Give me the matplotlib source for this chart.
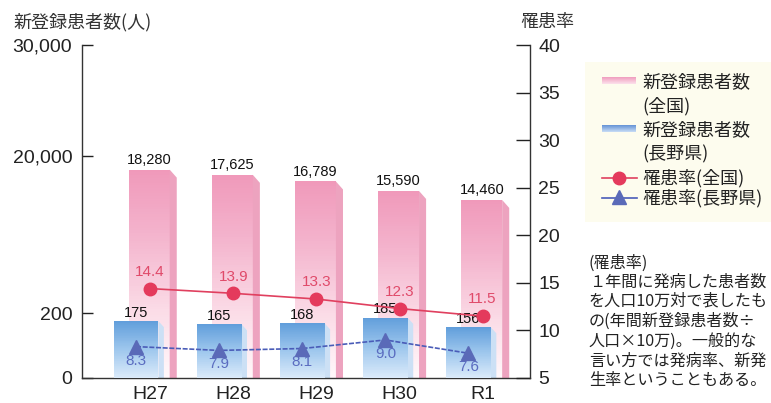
import numpy as np
import matplotlib
matplotlib.use("Agg")
import matplotlib.pyplot as plt
from matplotlib.colors import LinearSegmentedColormap

# ---------------- data ----------------
years = ["H27", "H28", "H29", "H30", "R1"]
national_count = [18280, 17625, 16789, 15590, 14460]
nagano_count = [175, 165, 168, 185, 156]
national_rate = [14.4, 13.9, 13.3, 12.3, 11.5]
nagano_rate = [8.3, 7.9, 8.1, 9.0, 7.6]
left_ticks = [0, 200, 20000, 30000]
left_ticklabels = ["0", "200", "20,000", "30,000"]
right_ticks = [5, 10, 15, 20, 25, 30, 35, 40]

JP = ["Noto Sans CJK JP", "DejaVu Sans"]
NUM = ["Liberation Sans", "DejaVu Sans"]

W, H = 771, 403
fig = plt.figure(figsize=(W / 100, H / 100), dpi=100)
fig.patch.set_facecolor("white")

# broken left scale (piecewise linear)
BRK = np.array([0, 200, 20000, 30000], dtype=float)
POS = np.array([0, 65, 222, 333], dtype=float)


def fwd(v):
    return np.interp(v, BRK, POS)


def inv(p):
    return np.interp(p, POS, BRK)


ax = fig.add_axes([82 / W, 1 - 378 / H, (530 - 82) / W, (378 - 45) / H])
ax.set_yscale("function", functions=(fwd, inv))
ax.set_ylim(0, 30000)
ax.set_xlim(-0.82, 4.57)
ax.set_facecolor("none")

pink_cmap = LinearSegmentedColormap.from_list(
    "pink", [(0.0, (1.0, 0.97, 0.98)), (0.3, (0.985, 0.87, 0.91)),
             (0.7, (0.955, 0.70, 0.80)), (1.0, (0.94, 0.60, 0.73))])
blue_cmap = LinearSegmentedColormap.from_list(
    "blue", [(0.0, (0.86, 0.92, 0.98)), (0.5, (0.62, 0.78, 0.93)),
             (1.0, (0.38, 0.62, 0.86))])

x = np.arange(len(years))


def grad_bar(xc, w, top, cmap, z):
    ptop = fwd(top)
    levels = np.linspace(0, ptop, 80)
    ye = inv(levels)
    xe = np.array([xc - w / 2, xc + w / 2])
    C = ((levels[:-1] + levels[1:]) / 2 / ptop)[:, None]
    ax.pcolormesh(xe, ye, C, cmap=cmap, vmin=0, vmax=1, shading="flat",
                  zorder=z, antialiased=False, edgecolors="none")


def side(x1, d, top, color, z, drop=8):
    ytop = top
    ytop2 = inv(fwd(top) - drop)
    ax.fill([x1, x1 + d, x1 + d, x1], [ytop, ytop2, 0, 0], color=color,
            lw=0, zorder=z)


pw, pd, poff = 0.49, 0.085, -0.01
bw, bd, boff = 0.54, 0.065, -0.17
for i in range(len(years)):
    # national (pink) bar
    grad_bar(x[i] + poff, pw, national_count[i], pink_cmap, 1)
    side(x[i] + poff + pw / 2, pd, national_count[i], (0.93, 0.64, 0.75), 1)
    # nagano (blue) bar
    grad_bar(x[i] + boff, bw, nagano_count[i], blue_cmap, 3)
    side(x[i] + boff + bw / 2, bd, nagano_count[i], (0.80, 0.88, 0.96), 2, drop=6)
    ax.annotate(f"{national_count[i]:,}", (x[i] + poff, national_count[i]),
                xytext=(0, 2), textcoords="offset points", ha="center",
                va="bottom", fontsize=10.5, family=NUM, color="#111111", zorder=5)
    ax.annotate(f"{nagano_count[i]}", (x[i] + boff, nagano_count[i]),
                xytext=(0, 1), textcoords="offset points", ha="center",
                va="bottom", fontsize=10.5, family=NUM, color="#111111", zorder=5)

ax.set_yticks(left_ticks)
ax.set_yticklabels(left_ticklabels, family=NUM, fontsize=14, color="#222222")
ax.yaxis.set_minor_locator(matplotlib.ticker.NullLocator())
ax.tick_params(axis="y", direction="in", length=8, width=1, pad=7, colors="#222222")
ax.set_xticks(x)
ax.set_xticklabels(years, family=NUM, fontsize=14, color="#222222")
ax.tick_params(axis="x", length=0, pad=6)
ax.spines["top"].set_visible(False)
ax.spines["right"].set_visible(False)
for s in ("left", "bottom"):
    ax.spines[s].set_color("#333333")
    ax.spines[s].set_linewidth(1.0)

# right axis: rates
ax2 = ax.twinx()
ax2.set_ylim(5, 40)
ax2.set_xlim(ax.get_xlim())
ax2.plot(x, national_rate, color="#e0405f", lw=1.2, marker="o",
         markersize=9, markerfacecolor="#e43a5c", markeredgecolor="#e43a5c", zorder=4)
ax2.plot(x + boff, nagano_rate, color="#4a5cb8", lw=1.2, ls=(0, (3, 1)),
         marker="^", markersize=10, markerfacecolor="#5a6ab8",
         markeredgecolor="#5a6ab8", zorder=4)
for i in range(len(years)):
    ax2.annotate(f"{national_rate[i]}", (x[i], national_rate[i]), xytext=(0, 7),
                 textcoords="offset points", ha="center", va="bottom",
                 fontsize=11, family=NUM, color="#e04a6a")
    ax2.annotate(f"{nagano_rate[i]}", (x[i] + boff, nagano_rate[i]), xytext=(0, -5),
                 textcoords="offset points", ha="center", va="top",
                 fontsize=11, family=NUM, color="#5a6cc0")
ax2.set_yticks(right_ticks)
ax2.set_yticklabels([str(t) for t in right_ticks], family=NUM, fontsize=14,
                    color="#222222")
ax2.tick_params(axis="y", direction="in", length=10, width=1, pad=6, colors="#222222")
for s in ("top", "left", "bottom"):
    ax2.spines[s].set_visible(False)
ax2.spines["right"].set_color("#333333")
ax2.spines["right"].set_linewidth(1.0)

# ---------------- overlay (titles, legend, note) ----------------
ov = fig.add_axes([0, 0, 1, 1], zorder=-1)
ov.set_xlim(0, W)
ov.set_ylim(H, 0)
ov.axis("off")

ov.text(13, 22, "新登録患者数(人)", family=JP, fontsize=13, va="center", ha="left",
        color="#333333")
ov.text(520, 22, "罹患率", family=JP, fontsize=13, va="center", ha="left",
        color="#333333")

# legend box
ov.add_patch(plt.Rectangle((585, 62), W - 585, 160, facecolor="#fdfcee",
                           edgecolor="none", zorder=0))
pg = np.linspace(0, 1, 20)[:, None]
ov.imshow(pg, cmap=LinearSegmentedColormap.from_list(
    "pl", [(0.94, 0.62, 0.75), (0.99, 0.88, 0.92)]),
    extent=(602, 636, 84, 77), aspect="auto", zorder=1)
ov.imshow(pg, cmap=LinearSegmentedColormap.from_list(
    "bl", [(0.40, 0.58, 0.84), (0.78, 0.86, 0.96)]),
    extent=(602, 636, 132, 125), aspect="auto", zorder=1)
ov.plot([602, 637], [178, 178], color="#e0405f", lw=1.2, zorder=2)
ov.plot([619], [178], marker="o", markersize=9, color="#e43a5c", zorder=3)
ov.plot([602, 637], [198, 198], color="#4a5cb8", lw=1.2, zorder=2)
ov.plot([619], [197], marker="^", markersize=10, color="#5a6ab8", zorder=3)
ov.set_xlim(0, W)
ov.set_ylim(H, 0)

leg_lines = [("新登録患者数", 82), ("(全国)", 106), ("新登録患者数", 130),
             ("(長野県)", 154), ("罹患率(全国)", 178), ("罹患率(長野県)", 198)]
for t, yy in leg_lines:
    ov.text(642, yy, t, family=JP, fontsize=13, va="center", ha="left",
            color="#222222", zorder=3)

note = ["(罹患率)", "１年間に発病した患者数", "を人口10万対で表したも",
        "の(年間新登録患者数÷", "人口×10万)。一般的な", "言い方では発病率、新発",
        "生率ということもある。"]
ny = [263, 282, 301, 321, 341, 361, 380]
for t, yy in zip(note, ny):
    ov.text(589, yy, t, family=JP, fontsize=11.6, va="center", ha="left",
            color="#222222")

fig.savefig("out.png", dpi=100, facecolor="white")
